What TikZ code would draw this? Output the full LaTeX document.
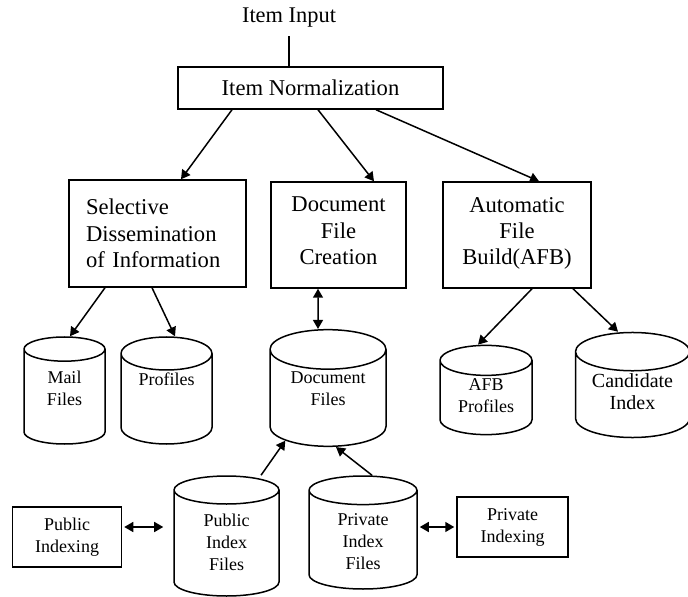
\documentclass[tikz,border=0pt]{standalone}
\usepackage{fontspec}
\setmainfont{Liberation Serif}
\usetikzlibrary{positioning, arrows.meta, shapes.geometric, calc}

\def\px{0.5pt}

\begin{document}
\begin{tikzpicture}[
    box/.style={draw, line width=0.75pt, inner sep=2pt, font=\fontsize{11.3}{13.2}\selectfont},
    sidebox/.style={draw, line width=0.75pt, inner sep=2pt, align=center, minimum width=109*\px, minimum height=60*\px, font=\fontsize{9}{11}\selectfont},
    datafile/.style={draw, line width=0.75pt, cylinder, shape border rotate=90, anchor=shape center, align=center, inner sep=1pt},
    flow/.style={line width=0.75pt, -{Triangle[length=4.5pt, width=5pt]}},
    twoway/.style={line width=0.75pt, {Triangle[length=4.5pt, width=5pt]}-{Triangle[length=4.5pt, width=5pt]}}
]
    % page size
    \useasboundingbox (0,0) rectangle (688*\px, -597*\px);

    % input and normalization
    \node[font=\fontsize{11.2}{13}\selectfont, inner sep=1pt] (input) at (289*\px, -18*\px) {Item Input};
    \node[box, minimum width=265*\px, minimum height=42*\px] (norm) at (310.5*\px, -88*\px) {Item Normalization};
    \draw[line width=0.75pt, shorten <=3pt] (input.south) -- (input.south |- norm.north);

    % the three processes
    \node[box, align=left, text width=71.5pt, minimum width=177*\px, minimum height=107*\px] (sdi) at (157.5*\px, -233.5*\px) {Selective\\Dissemination\\of Information};
    \node[box, align=center, text depth=4pt, minimum width=135*\px, minimum height=106*\px] (dfc) at (338.5*\px, -235*\px) {Document\\File\\Creation};
    \node[box, align=center, text depth=4pt, minimum width=148*\px, minimum height=106*\px] (afb) at (517*\px, -235*\px) {Automatic\\File\\Build(AFB)};

    % files
    \foreach \name/\x/\y/\w/\h/\a/\d/\fs/\txt in {
        mail/64.5/390.5/81/107/0.62/11/9/{Mail\\Files},
        prof/166.5/390.5/91/107/0.55/22/9/{Profiles},
        docf/328/388/116/106/0.5/12/9/{Document\\Files},
        afbp/486/390/92/86/0.5/5/9/{AFB\\Profiles},
        cand/632.5/385/114/96/0.45/6/10/{Candidate\\Index},
        pubf/226.5/536/105/120/0.56/3/9/{Public\\Index\\Files},
        privf/363/532.5/108/113/0.52/0.5/9/{Private\\Index\\Files}}{

        \node[datafile, aspect=\a, text depth=\d pt, minimum width=\w*\px, minimum height=\h*\px, font=\fontsize{\fs}{11}\selectfont]
            (\name) at (\x*\px, -\y*\px) {\txt};
    }

    % indexing
    \node[sidebox] (pubi) at (67*\px, -537*\px) {Public\\Indexing};
    \node[sidebox, minimum width=111*\px] (privi) at (512.5*\px, -527*\px) {Private\\Indexing};

    % connectors
    \draw[flow] ([xshift=-78.5*\px]norm.south) -- ([xshift=23.5*\px]sdi.north);
    \draw[flow] ([xshift=7.5*\px]norm.south) -- ([xshift=35.5*\px]dfc.north);
    \draw[flow] ([xshift=65.5*\px]norm.south) -- ([xshift=22*\px]afb.north);

    \draw[flow] ([xshift=-52.5*\px]sdi.south) -- ([xshift=5.5*\px]mail.north);
    \draw[flow] ([xshift=-5.5*\px]sdi.south) -- ([xshift=8.5*\px]prof.north);
    \draw[twoway] ([xshift=-20.5*\px]dfc.south) -- ([xshift=-10*\px]docf.north);
    \draw[flow] ([xshift=15*\px]afb.south) -- ([xshift=-8*\px]afbp.north);
    \draw[flow] ([xshift=56*\px]afb.south) -- ([xshift=-14.5*\px]cand.north);

    \draw[flow] ([xshift=34.5*\px]pubf.north) -- (docf.223);
    \draw[flow] ([xshift=9*\px]privf.north) -- ([xshift=8*\px]docf.south);

    \draw[twoway, shorten <=1pt, shorten >=5pt] ([yshift=10*\px]pubi.east) -- ([yshift=10*\px]pubi.east -| pubf.west);
    \draw[twoway, shorten <=1pt, shorten >=1pt] (privi.west -| privf.east) -- (privi.west);
\end{tikzpicture}
\end{document}
